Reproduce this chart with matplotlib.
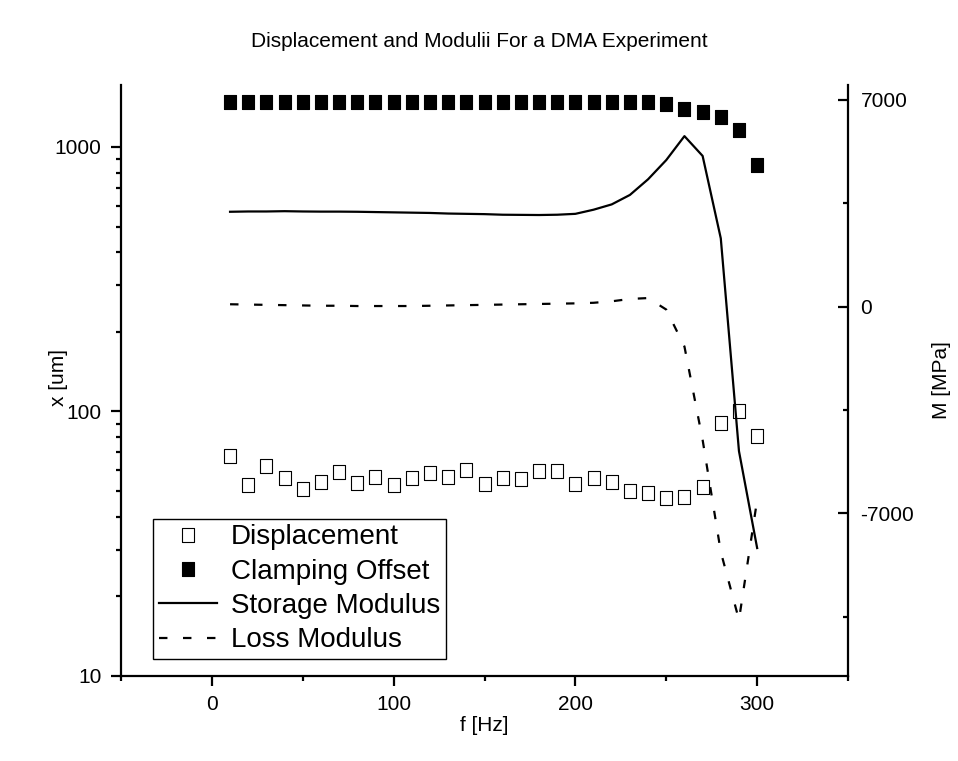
import numpy as np
import matplotlib
matplotlib.use('Agg')
import matplotlib.pyplot as plt
from matplotlib.ticker import FixedLocator, LogLocator, NullFormatter, FuncFormatter
from matplotlib.lines import Line2D

plt.rcParams['font.family'] = ['Liberation Sans', 'DejaVu Sans']
plt.rcParams['axes.unicode_minus'] = False

# frequency [Hz]
freq = [10, 20, 30, 40, 50, 60, 70, 80, 90, 100,
        110, 120, 130, 140, 150, 160, 170, 180, 190, 200,
        210, 220, 230, 240, 250, 260, 270, 280, 290, 300]

# displacement [um] (left, log)
displacement = [67.9, 52.7, 62.2, 56.1, 50.9, 54.1, 59.0, 53.7, 56.5, 52.7,
                56.1, 58.5, 56.5, 60.1, 53.2, 56.1, 55.6, 59.6, 59.6, 53.2,
                56.1, 54.1, 50.0, 49.2, 47.1, 47.5, 51.9, 90.6, 100.0, 80.8]

# clamping offset [um] (left, log)
clamping = [1480, 1480, 1480, 1480, 1480, 1480, 1480, 1480, 1480, 1480,
            1480, 1480, 1480, 1480, 1480, 1480, 1480, 1480, 1480, 1480,
            1480, 1480, 1480, 1475, 1454, 1392, 1356, 1298, 1160, 855]

# storage / loss modulus [MPa] (right axis)
storage = [3210, 3220, 3220, 3230, 3220, 3215, 3215, 3210, 3200, 3190,
           3180, 3170, 3150, 3140, 3130, 3110, 3105, 3100, 3110, 3140,
           3280, 3460, 3780, 4310, 4960, 5770, 5100, 2310, -4890, -8170]

loss = [80, 70, 60, 50, 40, 30, 30, 20, 20, 20,
        20, 30, 40, 50, 60, 70, 80, 90, 100, 110,
        130, 180, 260, 290, -100, -1350, -4510, -8300, -10600, -6540]

rect = [(-0.85, -1), (0.85, -1), (0.85, 1), (-0.85, 1), (-0.85, -1)]
dash = (0, (3.8, 7))

fig = plt.figure(figsize=(9.58, 7.61), dpi=100)
ax = fig.add_axes([0.1263, 0.1117, 0.7589, 0.7766])
ax2 = ax.twinx()

ax.plot(freq, displacement, ls='none', marker=rect, ms=9.5, mfc='white',
        mec='black', mew=0.8)
ax.plot(freq, clamping, ls='none', marker=rect, ms=9.5, mfc='black',
        mec='black', mew=0.8)
ax2.plot(freq, storage, color='black', lw=1.6)
ax2.plot(freq, loss, color='black', lw=1.6, ls=dash)

ax.set_yscale('log')
ax.set_xlim(-50, 350)
ax.set_ylim(10, 1714)
ax2.set_ylim(-12500, 7500)

ax.set_xticks([0, 100, 200, 300])
ax.xaxis.set_minor_locator(FixedLocator([-50, 50, 150, 250, 350]))
ax.yaxis.set_major_locator(FixedLocator([10, 100, 1000]))
ax.yaxis.set_major_formatter(FuncFormatter(lambda v, p: '%d' % v))
ax.yaxis.set_minor_locator(LogLocator(base=10, subs=np.arange(2, 10)))
ax.yaxis.set_minor_formatter(NullFormatter())

ax2.set_yticks([-7000, 0, 7000])
ax2.yaxis.set_minor_locator(FixedLocator([-10500, -3500, 3500]))

for a in (ax, ax2):
    a.spines['top'].set_visible(False)
    for s in a.spines.values():
        s.set_linewidth(1.6)
ax.spines['right'].set_visible(False)
ax2.spines['left'].set_visible(False)
ax2.spines['bottom'].set_visible(False)

ax.tick_params(axis='both', which='major', direction='out', length=7.5,
               width=1.6, labelsize=15, pad=6.5)
ax.tick_params(axis='both', which='minor', direction='out', length=3.8,
               width=1.6)
ax.tick_params(axis='x', which='both', top=False)
ax2.tick_params(axis='y', which='major', direction='in', length=7.5,
                width=1.6, labelsize=15, pad=9)
ax2.tick_params(axis='y', which='minor', direction='in', length=3.8, width=1.6)

ax.set_xlabel('f [Hz]', fontsize=15)
ax.set_ylabel('x [um]', fontsize=15)
ax2.set_ylabel('M [MPa]', fontsize=15)
ax.xaxis.set_label_coords(0.5, -0.068)
ax.yaxis.set_label_coords(-0.073, 0.505)
ax2.yaxis.set_label_coords(1.116, 0.5)
fig.suptitle('Displacement and Modulii For a DMA Experiment', fontsize=15,
             y=0.958)

handles = [
    Line2D([], [], ls='none', marker=rect, ms=9.5, mfc='white', mec='black', mew=0.8),
    Line2D([], [], ls='none', marker=rect, ms=9.5, mfc='black', mec='black', mew=0.8),
    Line2D([], [], color='black', lw=1.6),
    Line2D([], [], color='black', lw=1.6, ls=dash),
]
labels = ['Displacement', 'Clamping Offset', 'Storage Modulus', 'Loss Modulus']
leg = ax.legend(handles, labels, loc='lower left', bbox_to_anchor=(0.044, 0.029),
                fontsize=20, frameon=True, fancybox=False, framealpha=1,
                edgecolor='black', handlelength=2.1, handletextpad=0.5,
                labelspacing=0.3, borderpad=0.2, borderaxespad=0)
leg.get_frame().set_linewidth(1.0)

fig.savefig('out.png', dpi=100)
